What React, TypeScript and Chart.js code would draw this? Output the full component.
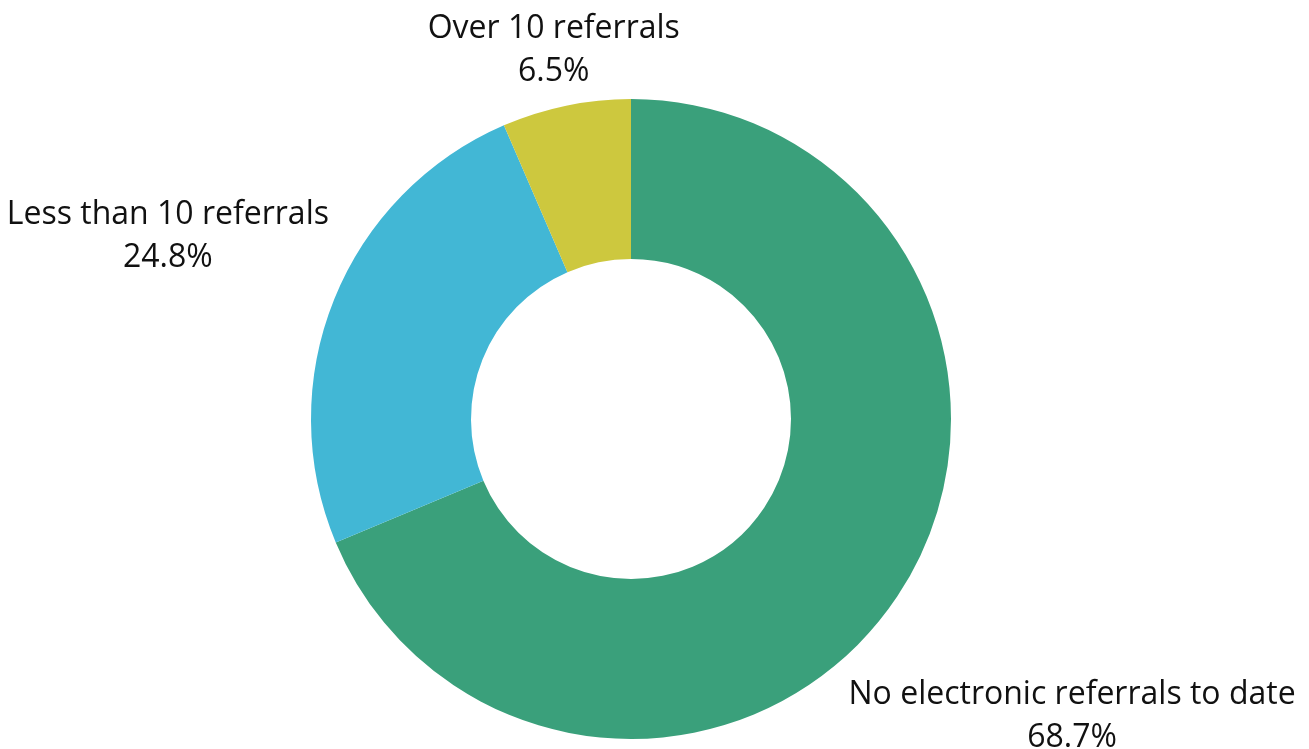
import React, { useEffect, useRef } from "react";
import { Chart, registerables } from "chart.js";

Chart.register(...registerables);

const categories = ["No electronic referrals to date", "Less than 10 referrals", "Over 10 referrals"];
const values = [68.7, 24.8, 6.5];
const valueLabels = ["68.7%", "24.8%", "6.5%"];
const colors = ["#3AA07B", "#42B7D5", "#CDC83E"];

const FONT = "32px 'Open Sans'";
const LINE_H = 43;
const GAP = 18;

const labelPlugin = {
  id: "outerLabels",
  afterDatasetsDraw(chart: any) {
    const ctx = chart.ctx;
    const meta = chart.getDatasetMeta(0);
    ctx.save();
    ctx.font = FONT;
    ctx.fillStyle = "#111111";
    ctx.textAlign = "center";
    ctx.textBaseline = "middle";
    meta.data.forEach((arc: any, i: number) => {
      const { x, y, startAngle, endAngle, outerRadius } = arc.getProps(
        ["x", "y", "startAngle", "endAngle", "outerRadius"],
        true
      );
      const mid = (startAngle + endAngle) / 2;
      const lines = [categories[i], valueLabels[i]];
      const w = Math.max(...lines.map((l) => ctx.measureText(l).width));
      const hw = w / 2;
      const hh = (lines.length * LINE_H) / 2 - 8;
      const target = outerRadius + GAP;
      const c = Math.cos(mid);
      const s = Math.sin(mid);
      let lo = 0;
      let hi = 2000;
      for (let k = 0; k < 60; k++) {
        const d = (lo + hi) / 2;
        const bx = d * c;
        const by = d * s;
        const nx = Math.max(Math.abs(bx) - hw, 0);
        const ny = Math.max(Math.abs(by) - hh, 0);
        const dist = Math.hypot(nx, ny);
        if (dist < target) lo = d;
        else hi = d;
      }
      const cx = x + lo * c;
      const cy = y + lo * s + 4;
      lines.forEach((l, j) => {
        ctx.fillText(l, cx, cy + (j - (lines.length - 1) / 2) * LINE_H);
      });
    });
    ctx.restore();
  },
};

export default function App() {
  const ref = useRef<HTMLCanvasElement>(null);
  useEffect(() => {
    document.body.style.margin = "0";
    const chart = new Chart(ref.current as HTMLCanvasElement, {
      type: "doughnut",
      data: {
        labels: categories,
        datasets: [
          {
            data: values,
            backgroundColor: colors,
            borderWidth: 0,
          },
        ],
      },
      options: {
        animation: false,
        responsive: false,
        cutout: "50%",
        layout: { padding: { left: 0, right: 47, top: 99, bottom: 10 } },
        plugins: {
          legend: { display: false },
          tooltip: { enabled: false },
        },
      },
      plugins: [labelPlugin],
    });
    return () => chart.destroy();
  }, []);
  return (
    <div style={{ position: "absolute", left: 0, top: 0, width: 1309, height: 749 }}>
      <canvas ref={ref} width={1309} height={749} style={{ display: "block" }} />
    </div>
  );
}
